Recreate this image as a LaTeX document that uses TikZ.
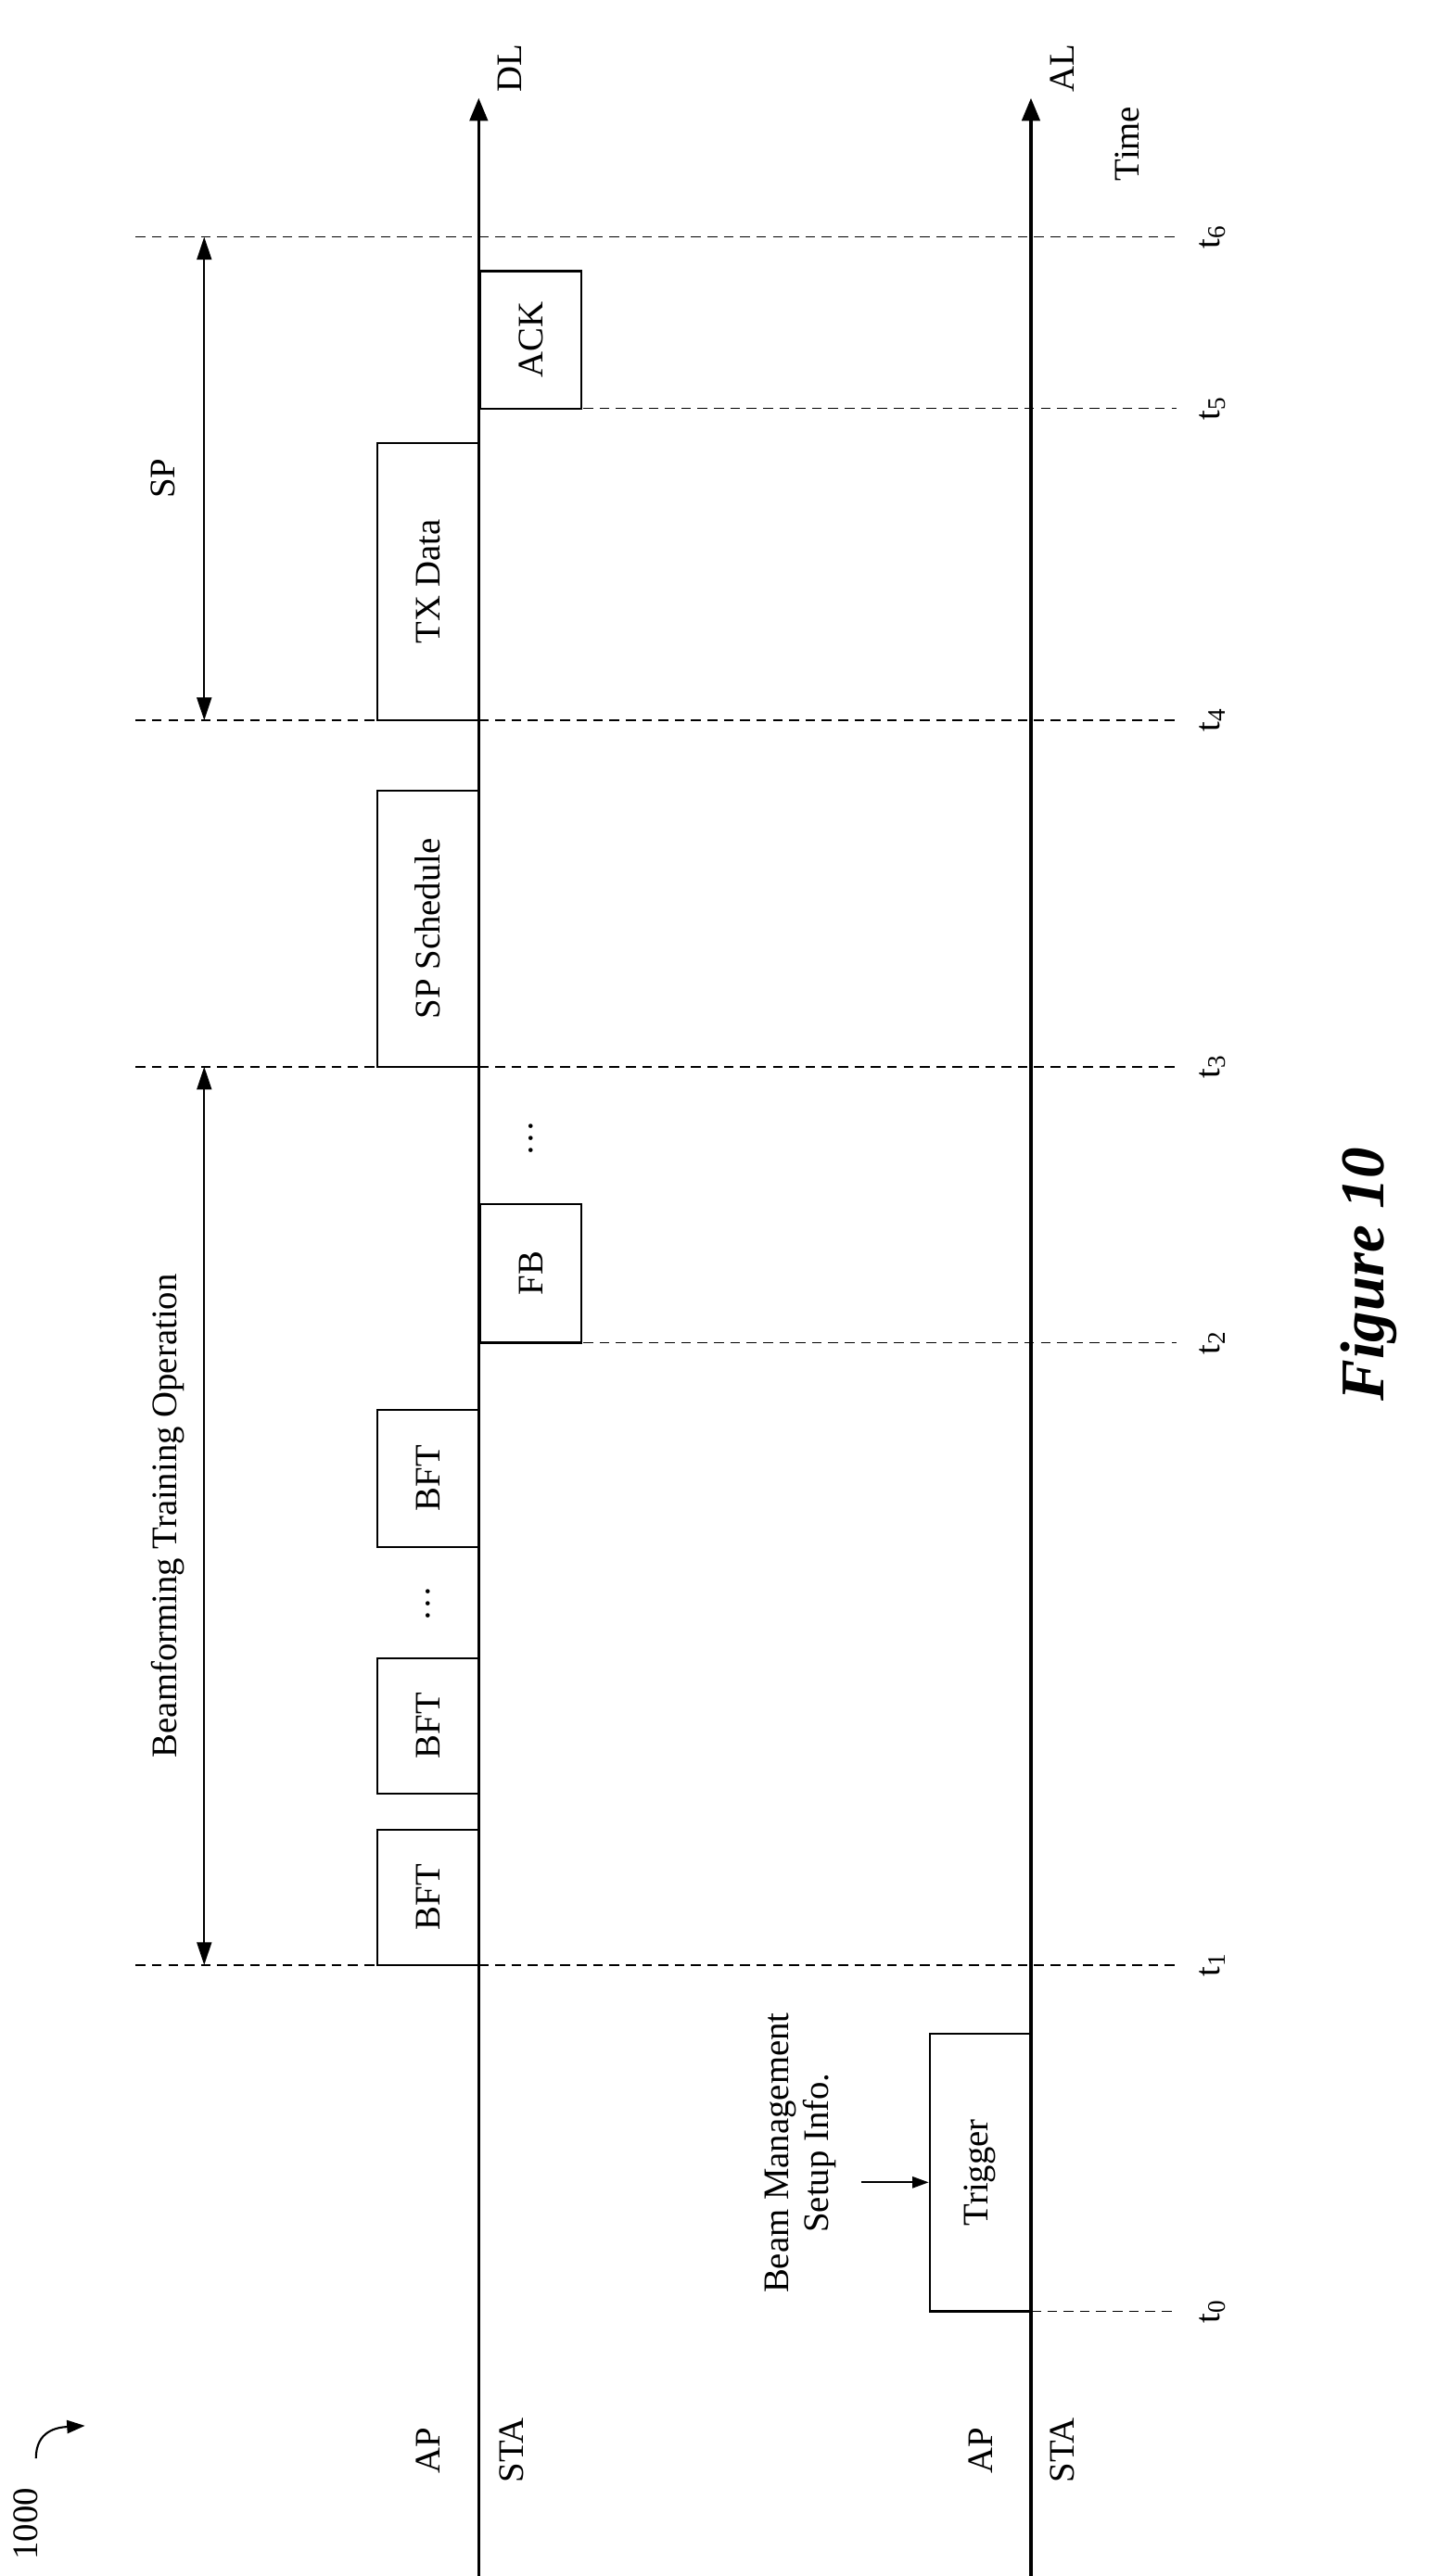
\documentclass[tikz,border=0pt]{standalone}
\usepackage{fontspec}
\setmainfont{Liberation Serif}
\usetikzlibrary{arrows.meta}
\begin{document}
\begin{tikzpicture}[x=1pt,y=-1pt,
  lbl/.style={rotate=90,font=\fontsize{22}{24}\selectfont,inner sep=0},
  box/.style={draw,line width=1.2pt,rotate=90,minimum height=62pt,inner sep=0,font=\fontsize{22}{24}\selectfont},
  dsh/.style={dash pattern=on 6pt off 4pt,line width=1pt},
  axis/.style={line width=2pt,-{Triangle[length=14pt,width=11pt]}},
  dbl/.style={line width=1.2pt,{Triangle[length=14pt,width=9pt]}-{Triangle[length=14pt,width=9pt]}}]
\useasboundingbox (0,0) rectangle (880,1577);
% axes
\coordinate (dlb) at (293,1577); \coordinate (dlt) at (293,60);
\coordinate (alb) at (631,1577); \coordinate (alt) at (631,60);
\draw[axis] (dlb) -- (dlt);
\draw[axis] (alb) -- (alt);
\node[lbl] (DL) at (312,42) {DL};
\node[lbl] (AL) at (650,42) {AL};
\node[lbl] (time) at (690,88) {Time};
\node[lbl] (ap1) at (262,1500) {AP};
\node[lbl] (sta1) at (313,1500) {STA};
\node[lbl] (ap2) at (600,1500) {AP};
\node[lbl] (sta2) at (650,1500) {STA};
% dashed lines and labels
\foreach \n/\xs/\y in {6/83/145,5/357/250,4/83/441,3/83/653,2/357/822,1/83/1203,0/631/1415}{
  \coordinate (ds\n) at (\xs,\y); \coordinate (de\n) at (720,\y);
  \draw[dsh] (ds\n) -- (de\n);
  \node[lbl] (t\n) at (742,\y) {t\textsubscript{\n}};
}
% boxes
\node[box,minimum width=83pt] (bft1) at (262,1161.5) {BFT};
\node[box,minimum width=83pt] (bft2) at (262,1056.5) {BFT};
\node[box,minimum width=84pt] (bft3) at (262,905) {BFT};
\node[box,minimum width=169pt] (sps) at (262,568.5) {SP Schedule};
\node[box,minimum width=170pt] (txd) at (262,356) {TX Data};
\node[box,minimum width=85pt] (fb) at (325,779.5) {FB};
\node[box,minimum width=84pt] (ack) at (325,208) {ACK};
\node[box,minimum width=170pt] (trig) at (600,1330) {Trigger};
\node[lbl] (dots1) at (262,982) {\dots};
\node[lbl] (dots2) at (325,697) {\dots};
% beam management
\node[lbl,align=center] (bm) at (490,1318) {Beam Management\\Setup Info.};
\coordinate (bma) at (527,1336);
\draw[line width=1pt,-{Triangle[length=10pt,width=7pt]}] (bma) -- (bma -| trig.north);
% double arrows
\coordinate (ba) at (125,653); \coordinate (bb) at (125,1203);
\draw[dbl] (ba) -- (bb);
\node[lbl] (bto) at (103,928) {Beamforming Training Operation};
\coordinate (sa) at (125,145); \coordinate (sb) at (125,441);
\draw[dbl] (sa) -- (sb);
\node[lbl] (sp) at (100,293) {SP};
% figure label
\node[rotate=90,font=\fontsize{38}{40}\selectfont\bfseries\itshape] (fig) at (838,780) {Figure 10};
\node[lbl] (num) at (16,1545) {1000};
\coordinate (na) at (22,1505); \coordinate (nb) at (52,1485);
\draw[line width=1.2pt,-{Triangle[length=11pt,width=8pt]}] (na) .. controls (22,1488) and (35,1486) .. (nb);
\end{tikzpicture}
\end{document}
